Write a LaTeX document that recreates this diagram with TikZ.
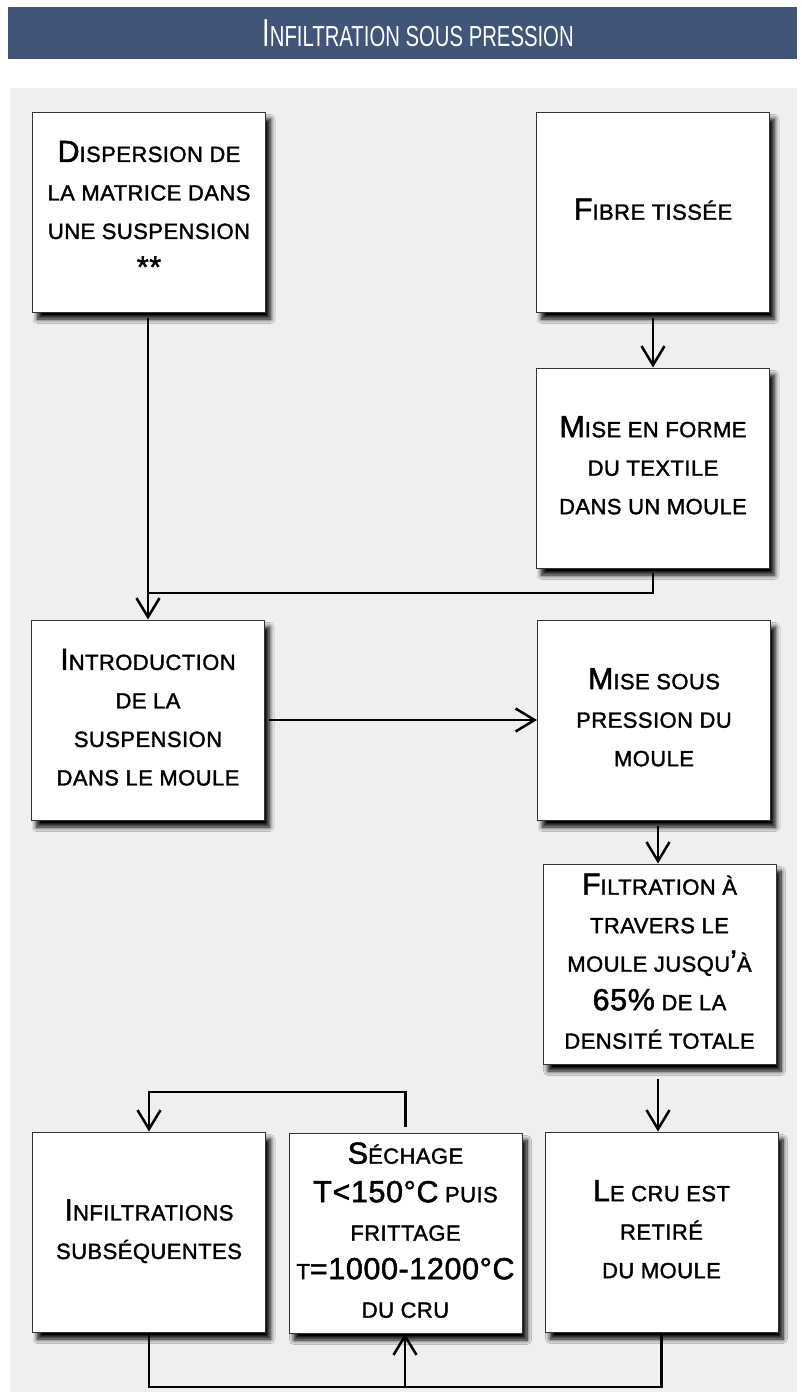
\documentclass[tikz,border=0pt]{standalone}
\usepackage{fontspec}
\usepackage{graphicx}
\setmainfont{Liberation Sans}
\newfontfamily\boxfont[LetterSpace=2,FakeBold=1.6]{Liberation Sans}
\definecolor{bandeau}{HTML}{405578}
\definecolor{fond}{HTML}{EFEFF2}
\usetikzlibrary{arrows.meta,shadows.blur}
\newcommand{\Gr}[1]{{\fontsize{30.5}{38.5}\selectfont #1}}
\newcommand{\Bloc}[2][0pt]{\raisebox{#1}{\begin{tabular}{@{}c@{}}#2\end{tabular}}}

\begin{document}
\begin{tikzpicture}[x=1pt,y=-1pt,
  etape/.style={draw=black!80,line width=1pt,fill=white,minimum width=233pt,minimum height=200pt,
    inner sep=0pt,font=\boxfont\fontsize{22}{38.5}\selectfont,
    blur shadow={shadow xshift=5pt,shadow yshift=-7pt,shadow blur radius=4.5pt,shadow blur steps=10,shadow opacity=100}},
  lien/.style={line width=2.5pt},
  fl/.style={lien,-{Straight Barb[length=19pt,width=23pt,line width=2.5pt]}}]
  \useasboundingbox (0,0) rectangle (801,1400);
  \fill[white] (0,0) rectangle (801,1400);
  \fill[bandeau] (8,7) rectangle (797,59);
  \node[text=white,anchor=base] (titre) at (418,46) {\scalebox{0.7}[1]{{\fontsize{39}{40}\selectfont I}{\fontsize{29}{40}\selectfont NFILTRATION SOUS PRESSION}}};
  \fill[fond] (10,88) rectangle (797,1392);
  % colonne de gauche
  \node[etape] (disp) at (149,212) {\Bloc{\Gr{D}ISPERSION DE\\LA MATRICE DANS\\UNE SUSPENSION\\\Gr{**}}};
  \node[etape] (intro) at (148,720) {\Bloc{\Gr{I}NTRODUCTION\\DE LA\\SUSPENSION\\DANS LE MOULE}};
  % colonne de droite
  \node[etape] (fibre) at (653,212) {\Bloc[-6pt]{\Gr{F}IBRE TISSÉE}};
  \node[etape] (forme) at (653,468) {\Bloc[15pt]{\Gr{M}ISE EN FORME\\DU TEXTILE\\DANS UN MOULE}};
  \node[etape] (pression) at (654,720) {\Bloc{\Gr{M}ISE SOUS\\PRESSION DU\\MOULE}};
  \node[etape] (filtr) at (659.5,964) {\Bloc[-6pt]{\Gr{F}ILTRATION À\\TRAVERS LE\\MOULE JUSQU\Gr{’}À\\\Gr{65\%} DE LA\\DENSITÉ TOTALE}};
  % rangee du bas
  \node[etape] (infil) at (149,1232) {\Bloc[16pt]{\Gr{I}NFILTRATIONS\\SUBSÉQUENTES}};
  \node[etape] (sech) at (405.5,1233) {\Bloc{\Gr{S}ÉCHAGE\\\Gr{T<150°C} PUIS\\FRITTAGE\\T\Gr{=1000-1200°C}\\DU CRU}};
  \node[etape] (cru) at (661.5,1232) {\Bloc[10pt]{\Gr{L}E CRU EST\\RETIRÉ\\DU MOULE}};
  \coordinate (jonction) at (148,593);
  \coordinate (retour) at (405,1092);
  \coordinate (base) at (405,1387);
  % liaisons
  \draw[fl,shorten <=5pt] (disp.south -| intro.north) -- (intro.north);
  \draw[fl,shorten <=5pt] (fibre.south) -- (forme.north);
  \draw[lien,shorten <=4pt] (forme.south) |- (jonction);
  \draw[fl,shorten <=4pt] (intro.east) -- (pression.west);
  \draw[fl,shorten <=5pt] (pression.south -| 658,0) -- (658,0 |- filtr.north);
  \draw[fl,shorten <=14pt] (filtr.south -| 658,0) -- (658,0 |- cru.north);
  \draw[fl,shorten <=6pt] (sech.north) |- (retour) -| (infil.north);
  \draw[lien] (infil.south) |- (base) -| (cru.south);
  \draw[fl] (base) -- (base |- sech.south);
\end{tikzpicture}
\end{document}
